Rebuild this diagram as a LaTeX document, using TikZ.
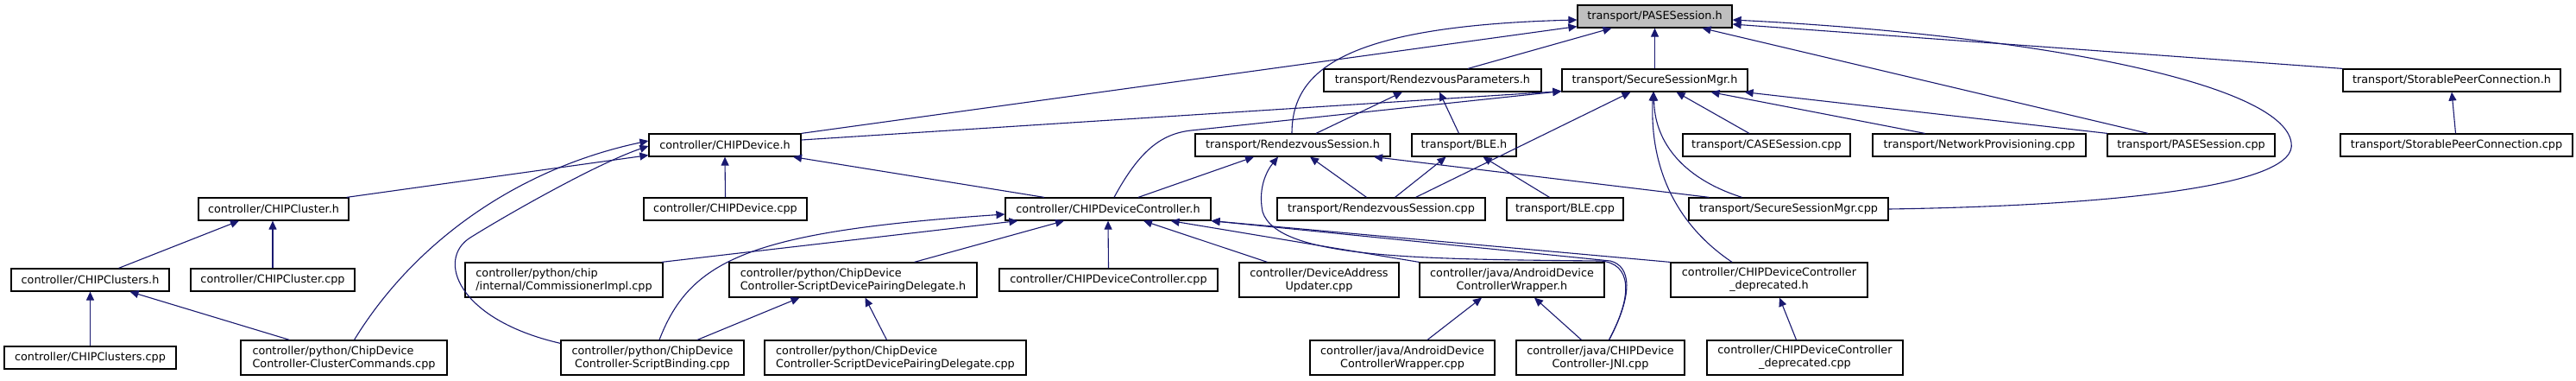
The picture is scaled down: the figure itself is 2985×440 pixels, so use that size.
\documentclass[tikz,border=0pt]{standalone}
\usepackage{fontspec}
\setmainfont{DejaVu Sans}
\usetikzlibrary{arrows.meta}
\definecolor{edgeblue}{HTML}{191970}
\definecolor{rootgray}{HTML}{BFBFBF}
\begin{document}
\begin{tikzpicture}[x=1pt,y=-1pt,
  box/.style={draw=black,line width=1.2pt,fill=white,inner sep=0pt,minimum height=26pt,
    font=\fontsize{12.8}{15}\selectfont},
  tbox/.style={box,minimum height=40pt},
  edge/.style={draw=edgeblue,line width=1.1pt,-{Triangle[length=10pt,width=9pt]},
    color=edgeblue}]
\useasboundingbox[fill=white] (0,0) rectangle (2985,440);
% row 0
\node[box,fill=rootgray,minimum width=179pt] (pase_h) at (1917.5,19) {transport/PASESession.h};
% row 1
\node[box,minimum width=215pt] (ssm_h) at (1917.5,93) {transport/SecureSessionMgr.h};
\node[box,minimum width=252pt] (rp_h) at (1660,93) {transport/RendezvousParameters.h};
\node[box,minimum width=252pt] (spc_h) at (2841,93) {transport/StorablePeerConnection.h};
% row 2
\node[box,minimum width=176pt] (cd_h) at (840,168) {controller/CHIPDevice.h};
\node[box,minimum width=226pt] (rs_h) at (1498,168) {transport/RendezvousSession.h};
\node[box,minimum width=121pt] (ble_h) at (1696.5,168) {transport/BLE.h};
\node[box,minimum width=194pt] (case_cpp) at (2047,168) {transport/CASESession.cpp};
\node[box,minimum width=247pt] (np_cpp) at (2293.5,168) {transport/NetworkProvisioning.cpp};
\node[box,minimum width=194pt] (pase_cpp) at (2539,168) {transport/PASESession.cpp};
\node[box,minimum width=269pt] (spc_cpp) at (2846.5,168) {transport/StorablePeerConnection.cpp};
% row 3
\node[box,minimum width=174pt] (ccl_h) at (317,242) {controller/CHIPCluster.h};
\node[box,minimum width=189pt] (cd_cpp) at (840.5,242) {controller/CHIPDevice.cpp};
\node[box,minimum width=238pt] (cdc_h) at (1284,242) {controller/CHIPDeviceController.h};
\node[box,minimum width=241pt] (rs_cpp) at (1600.5,242) {transport/RendezvousSession.cpp};
\node[box,minimum width=135pt] (ble_cpp) at (1813.5,242) {transport/BLE.cpp};
\node[box,minimum width=231pt] (ss_cpp) at (2072.5,242) {transport/SecureSessionMgr.cpp};
% row 4
\node[box,minimum width=183pt] (ccls_h) at (104.5,324) {controller/CHIPClusters.h};
\node[box,minimum width=190pt] (ccl_cpp) at (316,324) {controller/CHIPCluster.cpp};
\node[tbox,minimum width=229pt,align=left] (comm_cpp) at (653.5,324) {controller/python/chip\\/internal/CommissionerImpl.cpp};
\node[tbox,minimum width=287pt,align=left] (sdpd_h) at (988.5,324) {controller/python/ChipDevice\\Controller-ScriptDevicePairingDelegate.h};
\node[box,minimum width=253pt] (cdc_cpp) at (1284.5,324) {controller/CHIPDeviceController.cpp};
\node[tbox,minimum width=185pt,align=center] (dau_cpp) at (1528.5,324) {controller/DeviceAddress\\Updater.cpp};
\node[tbox,minimum width=214pt,align=center] (adw_h) at (1752,324) {controller/java/AndroidDevice\\ControllerWrapper.h};
\node[tbox,minimum width=228pt,align=center] (dep_h) at (2050,324) {controller/CHIPDeviceController\\\_deprecated.h};
% row 5
\node[box,minimum width=199pt] (ccls_cpp) at (104.5,414) {controller/CHIPClusters.cpp};
\node[tbox,minimum width=239pt,align=left] (cc_cpp) at (398.5,414) {controller/python/ChipDevice\\Controller-ClusterCommands.cpp};
\node[tbox,minimum width=212pt,align=center] (sb_cpp) at (756,414) {controller/python/ChipDevice\\Controller-ScriptBinding.cpp};
\node[tbox,minimum width=303pt,align=left] (sdpd_cpp) at (1037.5,414) {controller/python/ChipDevice\\Controller-ScriptDevicePairingDelegate.cpp};
\node[tbox,minimum width=214pt,align=center] (adw_cpp) at (1625,414) {controller/java/AndroidDevice\\ControllerWrapper.cpp};
\node[tbox,minimum width=195pt,align=center] (jni_cpp) at (1854.5,414) {controller/java/CHIPDevice\\Controller-JNI.cpp};
\node[tbox,minimum width=227pt,align=center] (dep_cpp) at (2091.5,414) {controller/CHIPDeviceController\\\_deprecated.cpp};

% edges to PASESession.h
\draw[edge] (cd_h.north east) -- ([yshift=2pt]pase_h.south west);
\draw[edge] ([xshift=-1pt]rs_h.north) .. controls (1497,80) and (1560,30) .. ([yshift=-4pt]pase_h.west);
\draw[edge] ([xshift=41pt]rp_h.north) -- ([xshift=-50pt]pase_h.south);
\draw[edge] (ssm_h.north) -- (pase_h.south);
\draw[edge] ([xshift=-50pt]pase_cpp.north) -- ([xshift=55pt]pase_h.south);
\draw[edge] (spc_h.north west) -- ([yshift=-9pt]pase_h.east);
\draw[edge] (ss_cpp.east) .. controls (2450,238) and (2665,215) .. (2655,165)
  .. controls (2645,95) and (2350,40) .. ([yshift=-4pt]pase_h.east);
% edges to SecureSessionMgr.h
\draw[edge] ([yshift=6pt]cd_h.east) -- ([yshift=1pt]ssm_h.south west);
\draw[edge] ([xshift=7pt]cdc_h.north) .. controls (1320,175) and (1345,155) .. (1380,151) -- ([yshift=1pt]ssm_h.south west);
\draw[edge] ([xshift=40pt]rs_cpp.north) -- ([xshift=-28pt]ssm_h.south);
\draw[edge] ([xshift=-54pt]ss_cpp.north) .. controls (1945,205) and (1917,160) .. ([xshift=-1pt]ssm_h.south);
\draw[edge] ([xshift=-43pt]dep_h.north) .. controls (1935,255) and (1912,185) .. ([xshift=-2pt]ssm_h.south);
\draw[edge] ([xshift=-20pt]case_cpp.north) -- ([xshift=25pt]ssm_h.south);
\draw[edge] ([xshift=-63pt]np_cpp.north) -- ([xshift=65pt]ssm_h.south);
\draw[edge] ([xshift=-97pt]pase_cpp.north) -- ([xshift=-4pt]ssm_h.south east);
% edges to RendezvousParameters.h
\draw[edge] ([xshift=27pt]rs_h.north) -- ([xshift=-35pt]rp_h.south);
\draw[edge] ([xshift=-6pt]ble_h.north) -- ([xshift=8pt]rp_h.south);
% edges to BLE.h
\draw[edge] ([xshift=16pt]rs_cpp.north) -- ([xshift=-21pt]ble_h.south);
\draw[edge] ([xshift=-18pt]ble_cpp.north) -- ([xshift=22pt]ble_h.south);
% edges to RendezvousSession.h
\draw[edge] ([xshift=-17pt]rs_cpp.north) -- ([xshift=20pt]rs_h.south);
\draw[edge] ([xshift=-92pt]ss_cpp.north) -- ([xshift=94pt]rs_h.south);
\draw[edge] ([xshift=35pt]cdc_h.north) -- ([xshift=-45pt]rs_h.south);
\draw[edge] ([xshift=10pt]jni_cpp.north) .. controls (1893,340) and (1890,305) .. (1855,302)
  .. controls (1650,300) and (1480,300) .. (1463,245)
  .. controls (1457,215) and (1470,195) .. ([xshift=-17pt]rs_h.south);
% edges to CHIPDeviceController.h
\draw[edge] ([xshift=10pt]jni_cpp.north) .. controls (1893,340) and (1890,308) .. (1866,302) -- (cdc_h.south east);
\draw[edge] (dep_h.north west) -- (cdc_h.south east);
\draw[edge] (adw_h.north west) -- ([xshift=-47pt]cdc_h.south east);
\draw[edge] ([xshift=-60pt]dau_cpp.north) -- ([xshift=41pt]cdc_h.south);
\draw[edge] (cdc_cpp.north) -- (cdc_h.south);
\draw[edge] ([xshift=71pt]sdpd_h.north) -- ([xshift=-51pt]cdc_h.south);
\draw[edge] ([xshift=-2pt]comm_cpp.north east) -- ([xshift=15pt]cdc_h.south west);
\draw[edge] ([xshift=8pt]sb_cpp.north) .. controls (800,300) and (870,268) .. ([yshift=-6pt]cdc_h.west);
% edges to CHIPDevice.h
\draw[edge] ([xshift=-3pt]ccl_h.north east) -- ([yshift=2pt]cd_h.south west);
\draw[edge] ([xshift=12pt]cc_cpp.north) .. controls (480,280) and (600,195) .. ([yshift=5pt]cd_h.west);
\draw[edge] ([yshift=-4pt]sb_cpp.north west) .. controls (530,370) and (505,300) .. (545,275)
  .. controls (585,250) and (690,190) .. ([yshift=-1pt]cd_h.west);
\draw[edge] (cd_cpp.north) -- (cd_h.south);
\draw[edge] ([xshift=-74pt]cdc_h.north) -- ([xshift=79pt]cd_h.south);
% edges to CHIPCluster.h / CHIPClusters.h
\draw[edge] ([xshift=33pt]ccls_h.north) -- ([xshift=-40pt]ccl_h.south);
\draw[edge] (ccl_cpp.north) -- ([xshift=-1pt]ccl_h.south);
\draw[edge] (ccls_cpp.north) -- (ccls_h.south);
\draw[edge] ([xshift=-63pt]cc_cpp.north) -- ([xshift=46pt]ccls_h.south);
% edges to lower headers
\draw[edge] ([xshift=52pt]sb_cpp.north) -- ([xshift=-62pt]sdpd_h.south);
\draw[edge] ([xshift=-10pt]sdpd_cpp.north) -- ([xshift=14pt]sdpd_h.south);
\draw[edge] ([xshift=29pt]adw_cpp.north) -- ([xshift=-35pt]adw_h.south);
\draw[edge] ([xshift=-22pt]jni_cpp.north) -- ([xshift=26pt]adw_h.south);
\draw[edge] ([xshift=-10pt]dep_cpp.north) -- ([xshift=12pt]dep_h.south);
\draw[edge] ([xshift=-1pt]spc_cpp.north) -- (spc_h.south);
\end{tikzpicture}
\end{document}
